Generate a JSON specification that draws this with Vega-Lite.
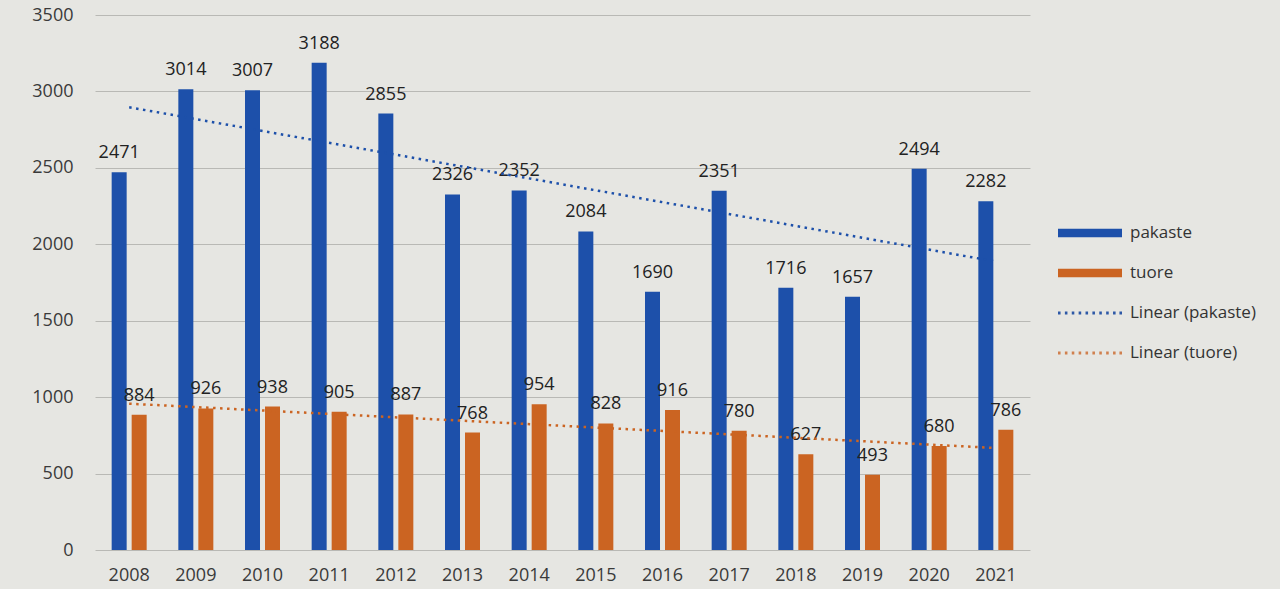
{
  "$schema": "https://vega.github.io/schema/vega-lite/v6.json",
  "width": 935,
  "height": 535,
  "autosize": {"type": "none"},
  "padding": {"left": 95, "top": 15, "right": 250, "bottom": 39},
  "background": "#e6e6e2",
  "config": {
    "view": {"stroke": null},
    "font": "Open Sans",
    "axis": {"labelFont": "Open Sans", "labelColor": "#3a3a3a", "labelFontSize": 18, "domain": false, "ticks": false, "tickSize": 0}
  },
  "data": {
    "values": [
      {"year": 2008, "series": "pakaste", "value": 2471}, {"year": 2008, "series": "tuore", "value": 884},
      {"year": 2009, "series": "pakaste", "value": 3014}, {"year": 2009, "series": "tuore", "value": 926},
      {"year": 2010, "series": "pakaste", "value": 3007}, {"year": 2010, "series": "tuore", "value": 938},
      {"year": 2011, "series": "pakaste", "value": 3188}, {"year": 2011, "series": "tuore", "value": 905},
      {"year": 2012, "series": "pakaste", "value": 2855}, {"year": 2012, "series": "tuore", "value": 887},
      {"year": 2013, "series": "pakaste", "value": 2326}, {"year": 2013, "series": "tuore", "value": 768},
      {"year": 2014, "series": "pakaste", "value": 2352}, {"year": 2014, "series": "tuore", "value": 954},
      {"year": 2015, "series": "pakaste", "value": 2084}, {"year": 2015, "series": "tuore", "value": 828},
      {"year": 2016, "series": "pakaste", "value": 1690}, {"year": 2016, "series": "tuore", "value": 916},
      {"year": 2017, "series": "pakaste", "value": 2351}, {"year": 2017, "series": "tuore", "value": 780},
      {"year": 2018, "series": "pakaste", "value": 1716}, {"year": 2018, "series": "tuore", "value": 627},
      {"year": 2019, "series": "pakaste", "value": 1657}, {"year": 2019, "series": "tuore", "value": 493},
      {"year": 2020, "series": "pakaste", "value": 2494}, {"year": 2020, "series": "tuore", "value": 680},
      {"year": 2021, "series": "pakaste", "value": 2282}, {"year": 2021, "series": "tuore", "value": 786}
    ]
  },
  "encoding": {
    "x": {
      "field": "year", "type": "ordinal", "title": null,
      "scale": {"paddingInner": 0.475, "paddingOuter": 0.25},
      "axis": {"labelAngle": 0, "labelPadding": 16, "grid": false}
    },
    "y": {
      "field": "value", "type": "quantitative", "title": null,
      "scale": {"domain": [0, 3500], "nice": false},
      "axis": {"values": [0, 500, 1000, 1500, 2000, 2500, 3000, 3500], "format": "d", "labelPadding": 22, "grid": true, "gridColor": "#b9b9b5", "gridWidth": 1.2}
    }
  },
  "layer": [
    {
      "mark": {"type": "bar"},
      "encoding": {
        "xOffset": {"field": "series", "type": "nominal", "scale": {"paddingInner": 0.25}},
        "color": {
          "field": "series", "type": "nominal",
          "scale": {"domain": ["pakaste", "tuore", "Linear (pakaste)", "Linear (tuore)"], "range": ["#1d50aa", "#cb6422", "#2d58a6", "#d0804e"]},
          "legend": {
            "title": null,
            "orient": "none",
            "legendX": 963,
            "legendY": 186,
            "symbolSize": 4096,
            "labelFontSize": 17,
            "labelFont": "Open Sans",
            "labelColor": "#333333",
            "labelOffset": 8,
            "rowPadding": -1,
            "encode": {
              "symbols": {
                "update": {
                  "shape": {"signal": "indexof(datum.value, 'Linear') === 0 ? 'M-1,-0.045h0.08v0.09h-0.08Z M-0.785,-0.045h0.08v0.09h-0.08Z M-0.57,-0.045h0.08v0.09h-0.08Z M-0.355,-0.045h0.08v0.09h-0.08Z M-0.14,-0.045h0.08v0.09h-0.08Z M0.075,-0.045h0.08v0.09h-0.08Z M0.29,-0.045h0.08v0.09h-0.08Z M0.505,-0.045h0.08v0.09h-0.08Z M0.72,-0.045h0.08v0.09h-0.08Z M0.92,-0.045h0.08v0.09h-0.08Z' : 'M-1,-0.13H1V0.13H-1Z'"},
                  "fill": {"scale": "color", "field": "value"},
                  "stroke": {"value": "transparent"},
                  "strokeWidth": {"value": 0},
                  "opacity": {"value": 1}
                }
              }
            }
          }
        }
      }
    },
    {
      "mark": {"type": "text", "baseline": "bottom", "dy": -10, "fontSize": 18, "color": "#222222"},
      "encoding": {
        "xOffset": {"field": "series", "type": "nominal", "scale": {"paddingInner": 0.25}},
        "text": {"field": "value", "type": "quantitative", "format": "d"}
      }
    },
    {
      "transform": [{"regression": "value", "on": "year", "groupby": ["series"], "method": "linear"}],
      "mark": {"type": "line", "strokeWidth": 2.5, "strokeDash": [2.5, 4.5]},
      "encoding": {
        "color": {"field": "series", "type": "nominal"}
      }
    }
  ]
}
